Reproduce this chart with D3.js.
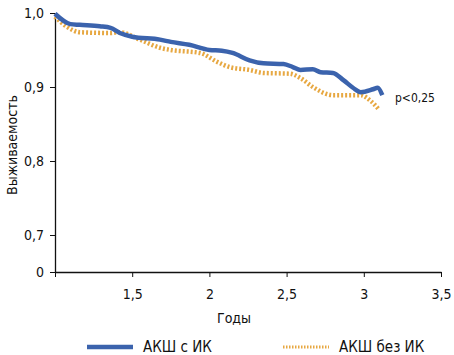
<!DOCTYPE html>
<html>
<head>
<meta charset="utf-8">
<script src="https://cdn.jsdelivr.net/npm/d3@7"></script>
<style>
  body { margin: 0; background: #fff; }
  svg text { font-family: "Liberation Sans Narrow", "DejaVu Sans Condensed", "Roboto", sans-serif; fill: #111; }
</style>
</head>
<body>
<div id="chart"></div>
<script>
// survival curves (years, survival)
const withYears = [1.0, 1.1, 1.16, 1.29, 1.36, 1.42, 1.5, 1.68, 1.75, 1.87, 2.0, 2.08, 2.15, 2.26, 2.35, 2.48, 2.54, 2.59, 2.67, 2.72, 2.8, 2.87, 2.93, 2.98, 3.06, 3.09, 3.12];
const withSurv  = [0.999, 0.985, 0.984, 0.982, 0.980, 0.973, 0.968, 0.964, 0.961, 0.957, 0.950, 0.949, 0.946, 0.936, 0.932, 0.931, 0.927, 0.923, 0.924, 0.920, 0.919, 0.909, 0.899, 0.893, 0.897, 0.899, 0.889];

const offYears = [1.0, 1.08, 1.16, 1.36, 1.42, 1.55, 1.68, 1.75, 1.94, 2.05, 2.13, 2.26, 2.35, 2.52, 2.59, 2.67, 2.8, 2.98, 3.04, 3.1];
const offSurv  = [0.995, 0.981, 0.974, 0.973, 0.974, 0.964, 0.953, 0.950, 0.946, 0.934, 0.927, 0.923, 0.919, 0.918, 0.912, 0.900, 0.889, 0.889, 0.882, 0.869];

const xTicks = [1, 1.5, 2, 2.5, 3, 3.5];
const yTicks = [0, 0.7, 0.8, 0.9, 1.0];
const seriesNames = ["АКШ с ИК", "АКШ без ИК"];

const W = 454, H = 355;
const blue = "#3b63ad", orange = "#e7a842";

const svg = d3.select("#chart").append("svg")
  .attr("width", W).attr("height", H);

// x: years, y: broken scale (0 then 0.7..1.0)
const x = d3.scaleLinear().domain([1, 3.5]).range([55, 441]);
const y = d3.scaleLinear().domain([0, 0.7, 1.0]).range([272, 235, 13]);

const comma = d => String(d).replace(".", ",");

// y axis
const yAxis = svg.append("g")
  .attr("transform", "translate(55,0)")
  .call(d3.axisLeft(y).tickValues(yTicks).tickSize(5).tickSizeOuter(0).tickPadding(6)
    .tickFormat(d => d === 0 ? "0" : d3.format(".1f")(d).replace(".", ",")));
yAxis.selectAll("text").style("font-size", "14px");
yAxis.select(".domain").attr("stroke", "#111").attr("stroke-width", 1.3);
yAxis.selectAll(".tick line").attr("stroke", "#111");

// x axis
const xAxis = svg.append("g")
  .attr("transform", "translate(0,272)")
  .call(d3.axisBottom(x).tickValues(xTicks).tickSize(5).tickSizeOuter(0).tickPadding(12)
    .tickFormat(d => d === 1 ? "" : comma(d)));
xAxis.selectAll("text").style("font-size", "14px");
xAxis.select(".domain").attr("stroke", "#111").attr("stroke-width", 1.3);
xAxis.selectAll(".tick line").attr("stroke", "#111");

// axis titles
svg.append("text")
  .attr("x", 234).attr("y", 323)
  .attr("text-anchor", "middle")
  .style("font-size", "14px")
  .text("Годы");

svg.append("text")
  .attr("transform", "translate(17,145) rotate(-90)")
  .attr("text-anchor", "middle")
  .style("font-size", "14px")
  .text("Выживаемость");

// curves
const line = d3.line()
  .x(d => x(d[0]))
  .y(d => y(d[1]))
  .curve(d3.curveMonotoneX);

const offData = offYears.map((v, i) => [v, offSurv[i]]);
const withData = withYears.map((v, i) => [v, withSurv[i]]);

svg.append("path")
  .datum(offData)
  .attr("d", line)
  .attr("fill", "none")
  .attr("stroke", orange)
  .attr("stroke-width", 4.5)
  .attr("stroke-dasharray", "2,2");

svg.append("path")
  .datum(withData)
  .attr("d", line)
  .attr("fill", "none")
  .attr("stroke", blue)
  .attr("stroke-width", 4.5);

svg.append("text")
  .attr("x", 395).attr("y", 102)
  .style("font-size", "12px")
  .text("p<0,25");

// legend
const legend = svg.append("g");
const legendX = [87, 283];
legend.selectAll("line")
  .data(seriesNames)
  .enter()
  .append("line")
  .attr("x1", (d, i) => legendX[i])
  .attr("x2", (d, i) => legendX[i] + 46)
  .attr("y1", 347).attr("y2", 347)
  .attr("stroke", (d, i) => i === 0 ? blue : orange)
  .attr("stroke-width", (d, i) => i === 0 ? 4.5 : 3)
  .attr("stroke-dasharray", (d, i) => i === 0 ? null : "1.5,1.5");

legend.selectAll("text")
  .data(seriesNames)
  .enter()
  .append("text")
  .attr("x", (d, i) => legendX[i] + 56)
  .attr("y", 352)
  .style("font-size", "15px")
  .text(d => d);
</script>
</body>
</html>
